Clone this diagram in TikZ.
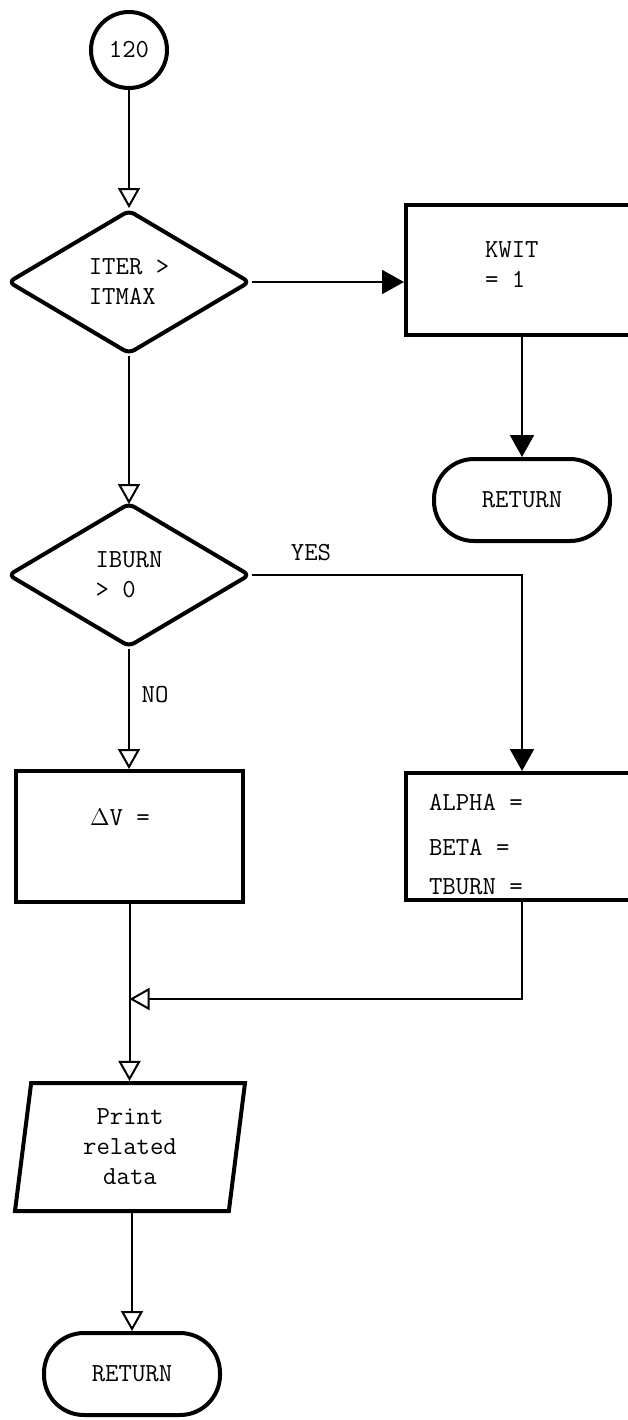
\documentclass[tikz,border=0pt]{standalone}
\usepackage{tikz}
\usetikzlibrary{arrows.meta,shapes.geometric,positioning,calc}

\begin{document}
\begin{tikzpicture}[x=0.5pt, y=-0.5pt,
  font=\ttfamily\fontsize{13}{15}\selectfont,
  shp/.style={draw, line width=2pt, inner sep=0pt},
  dec/.style={shp, diamond, aspect=2, minimum width=121pt, minimum height=72pt, rounded corners=3pt, align=left},
  box/.style={shp, rectangle},
  term/.style={shp, rectangle, rounded corners=20pt, minimum width=88pt, minimum height=41pt},
  io/.style={shp, trapezium, trapezium left angle=78, trapezium right angle=102, trapezium stretches body, minimum width=115pt, minimum height=64pt, align=center},
  conn/.style={line width=1pt},
  hol/.style={conn, -{Triangle[open, length=10pt, width=11pt]}},
  sol/.style={conn, -{Triangle[length=11pt, width=12pt]}}]
\useasboundingbox (0,0) rectangle (627,1420);

% left column
\node[shp, circle, minimum size=38pt] (c120) at (129,50) {120};
\node[dec] (d1) at (129,282) {ITER >\\ITMAX};
\node[dec] (d2) at (129,575) {IBURN\\> 0};
\node[box, minimum width=113.5pt, minimum height=65.5pt] (dv) at (129.5,836.5) {};
\node (dvtxt) at (120,817) {$\Delta$V =};
\node[io] (prt) at (130,1147) {Print\\related\\data};
\node[term] (ret2) at (132,1374) {RETURN};

% right column
\node[box, minimum width=116pt, minimum height=65pt] (kwit) at (522,270) {};
\node[anchor=west, align=left] (kwittxt) at (478,265) {KWIT\\= 1};
\node[term] (ret1) at (522,500) {RETURN};
\node[box, minimum width=116pt, minimum height=63.5pt] (abt) at (522,836.5) {};
\foreach \y/\t [count=\i] in {802/ALPHA =,847/BETA =,887/TBURN =}
  \node[anchor=west] (abt\i) at (422,\y) {\t};

\node (yes) at (311,553) {YES};
\node (no) at (155,695) {NO};
\path (dv.south) ++(0,95) coordinate (jn);

% connectors
\draw[hol] (c120.south) -- (d1.north);
\draw[sol] (d1.east) -- (d1.east -| kwit.west);
\draw[sol] (kwit.south) -- (ret1.north);
\draw[hol, shorten >=-1.5pt] (d1.south) -- (d2.north);
\draw[sol] (d2.east) -| (abt.north);
\draw[hol] (d2.south) -- (d2.south |- dv.north);
\draw[hol] (abt.south) |- (jn);
\draw[hol] (dv.south) -- (dv.south |- prt.north);
\draw[hol] (ret2.north |- prt.south) -- (ret2.north);
\end{tikzpicture}
\end{document}
